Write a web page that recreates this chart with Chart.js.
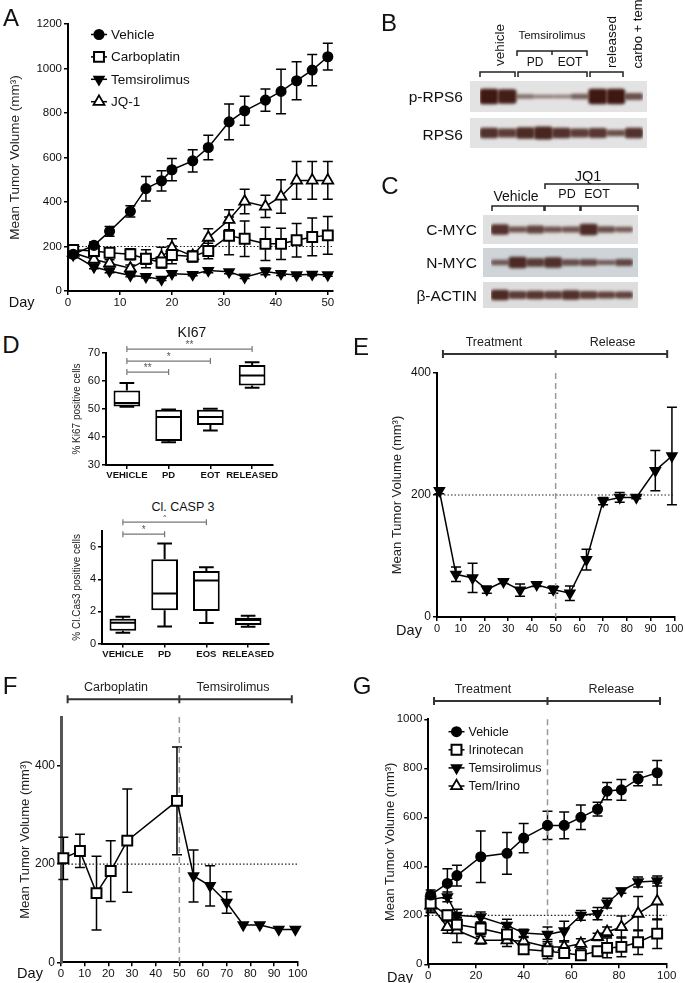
<!DOCTYPE html>
<html>
<head>
<meta charset="utf-8">
<script src="https://cdn.jsdelivr.net/npm/chart.js"></script>
<style>
  body { margin: 0; width: 685px; height: 983px; position: relative; overflow: hidden; background: #fff;
         font-family: 'Liberation Sans', Arial, Helvetica, sans-serif; color: #111; }
  canvas { position: absolute; }
  .t { position: absolute; white-space: nowrap; line-height: 1; }
  .blot { position: absolute; }
  svg { position: absolute; left: 0; top: 0; }
</style>
</head>
<body>

<canvas id="cA" width="345" height="310" style="left:0;top:0"></canvas>
<canvas id="cKi" width="230" height="165" style="left:60px;top:325px"></canvas>
<canvas id="cCas" width="230" height="150" style="left:60px;top:515px"></canvas>
<canvas id="cE" width="340" height="310" style="left:345px;top:330px"></canvas>
<canvas id="cF" width="345" height="318" style="left:0;top:665px"></canvas>
<canvas id="cG" width="340" height="318" style="left:345px;top:665px"></canvas>

<div class="blot" style="left:470px;top:81px;width:177px;height:31px;background:#e3e3e3"></div>
<div class="blot" style="left:470px;top:118px;width:177px;height:30px;background:#e3e3e3"></div>
<div class="blot" style="left:483px;top:215px;width:155px;height:29px;background:#e0e0e0"></div>
<div class="blot" style="left:483px;top:248px;width:155px;height:29px;background:#ced4d8"></div>
<div class="blot" style="left:483px;top:282px;width:155px;height:26px;background:#dddddd"></div>
<canvas id="bP" width="163" height="31" style="left:480px;top:81px"></canvas>
<canvas id="bR" width="163" height="30" style="left:480px;top:118px"></canvas>
<canvas id="bC" width="142" height="29" style="left:491px;top:215px"></canvas>
<canvas id="bN" width="142" height="29" style="left:491px;top:248px"></canvas>
<canvas id="bB" width="142" height="26" style="left:491px;top:282px"></canvas>

<svg width="685" height="320" stroke="#222" stroke-width="1.5" fill="none">
  <path d="M517,56 L517,51 L587,51 L587,56 M552,51 L552,55"/>
  <path d="M480,77 L480,72 L515,72 L515,77"/>
  <path d="M518,77 L518,72 L587,72 L587,77"/>
  <path d="M590,77 L590,72 L623,72 L623,77"/>
  <path d="M545,189 L545,184 L638,184 L638,189"/>
  <path d="M492,211 L492,206 L544,206 L544,211"/>
  <path d="M545,211 L545,206 L580,206 L580,211"/>
  <path d="M581,211 L581,206 L638,206 L638,211"/>
</svg>

<script>
// ---------- Panel A: tumour volume, days 0-50 ----------
const dayA = [1, 5, 8, 12, 15, 18, 20, 24, 27, 31, 34, 38, 41, 44, 47, 50];
const vehA = [165, 205, 268, 358, 460, 495, 545, 585, 645, 760, 810, 858, 897, 945, 993, 1053];
const vehAErr = [15, 15, 22, 25, 55, 45, 50, 50, 55, 80, 65, 50, 100, 85, 70, 60];
const carboA = [185, 180, 172, 165, 145, 128, 162, 155, 180, 248, 235, 212, 212, 228, 243, 250];
const carboAErr = [10, 25, 20, 25, 40, 25, 40, 25, 35, 85, 80, 75, 70, 75, 85, 85];
const temA = [162, 108, 90, 70, 64, 52, 78, 74, 92, 86, 62, 88, 78, 72, 75, 72];
const temAErr = [10, 8, 8, 6, 6, 5, 8, 6, 10, 8, 6, 15, 8, 6, 6, 6];
const jqA = [172, 142, 125, 102, 140, 152, 195, 158, 240, 320, 402, 380, 425, 497, 497, 497];
const jqAErr = [10, 15, 15, 15, 20, 45, 40, 15, 40, 45, 55, 50, 75, 85, 85, 85];

// ---------- Panel B / C: blot band intensities (0-1) ----------
const lanesB = ['veh 1', 'veh 2', 'PD 1', 'PD 2', 'EOT 1', 'EOT 2', 'rel 1', 'rel 2', 'carbo+tem'];
const pRPS6 = [1.0, 0.95, 0.3, 0.22, 0.18, 0.42, 1.0, 1.0, 0.55];
const RPS6 = [0.8, 0.7, 0.85, 0.9, 0.8, 0.7, 0.75, 0.55, 0.8];
const lanesC = ['veh 1', 'veh 2', 'veh 3', 'PD 1', 'PD 2', 'EOT 1', 'EOT 2', 'EOT 3'];
const cMYC = [0.8, 0.5, 0.65, 0.5, 0.5, 0.85, 0.55, 0.45];
const nMYC = [0.45, 0.85, 0.7, 0.8, 0.55, 0.6, 0.4, 0.6];
const bACTIN = [0.85, 0.7, 0.75, 0.7, 0.8, 0.7, 0.65, 0.65];

// ---------- Panel D: box plots ----------
const ki67Cats = ['VEHICLE', 'PD', 'EOT', 'RELEASED'];
const ki67Min = [50.8, 38.1, 42.3, 57.6];
const ki67Q1 = [50.9, 38.6, 44.3, 58.4];
const ki67Med = [52.1, 47.1, 47.1, 62.0];
const ki67Q3 = [56.6, 49.7, 49.7, 65.7];
const ki67Max = [59.3, 49.8, 50.1, 66.7];
const ki67Sig = [[0, 3, 71.4, '**'], [0, 2, 67.1, '*'], [0, 1, 63.2, '**']];

const casCats = ['VEHICLE', 'PD', 'EOS', 'RELEASED'];
const casMin = [0.68, 1.07, 1.28, 1.05];
const casQ1 = [0.8, 2.07, 2.02, 1.16];
const casMed = [1.3, 3.12, 3.93, 1.47];
const casQ3 = [1.55, 5.25, 4.51, 1.61];
const casMax = [1.67, 6.23, 4.74, 1.73];
const casSig = [[0, 2, 7.55, '*'], [0, 1, 6.8, '*']];

// ---------- Panel E ----------
const dayE = [1, 8, 15, 21, 28, 35, 42, 49, 56, 63, 70, 77, 84, 92, 99];
const temE = [207, 70, 64, 45, 58, 44, 53, 45, 39, 94, 190, 196, 196, 240, 264];
const temEErr = [5, 12, 24, 6, 3, 10, 3, 6, 12, 17, 6, 8, 2, 33, 80];

// ---------- Panel F ----------
const dayFCarbo = [1, 8, 15, 21, 28, 49];
const carboF = [212, 227, 141, 186, 248, 329];
const carboFErr = [43, 34, 75, 62, 105, 110];
const dayFTem = [49, 56, 63, 70, 77, 84, 92, 99];
const temF = [329, 176, 156, 122, 76, 76, 67, 67];
const temFErr = [0, 53, 41, 22, 0, 0, 0, 0];

// ---------- Panel G ----------
const dayG = [1, 8, 12, 22, 33, 40, 50, 57, 64, 71, 75, 81, 88, 96];
const vehG = [283, 330, 362, 439, 453, 515, 567, 567, 600, 633, 707, 712, 757, 782];
const vehGErr = [20, 60, 42, 105, 85, 60, 58, 55, 50, 28, 35, 42, 28, 50];
const iriG = [248, 200, 162, 146, 122, 61, 53, 46, 37, 53, 67, 71, 90, 125];
const iriGErr = [30, 20, 30, 25, 30, 15, 30, 20, 15, 15, 40, 40, 50, 60];
const temG = [265, 275, 200, 193, 159, 128, 122, 136, 200, 207, 250, 300, 336, 340];
const temGErr = [20, 20, 25, 20, 25, 15, 30, 40, 20, 25, 20, 10, 20, 20];
const tiG = [240, 152, 139, 98, 98, 94, 71, 71, 84, 112, 132, 152, 207, 257];
const tiGErr = [30, 25, 50, 15, 25, 15, 30, 20, 20, 15, 20, 45, 70, 75];

const FONT = "'Liberation Sans', Arial, Helvetica, sans-serif";
Chart.defaults.font.family = FONT;
Chart.defaults.color = '#111';

// ---- plugins ----
const errorBars = {
  id: 'errorBars',
  beforeDatasetsDraw(chart) {
    const ctx = chart.ctx, ys = chart.scales.y;
    chart.data.datasets.forEach((ds, i) => {
      if (!ds.errorBars) return;
      const meta = chart.getDatasetMeta(i);
      ctx.save();
      ctx.strokeStyle = '#000';
      ctx.lineWidth = 1.5;
      meta.data.forEach((pt, j) => {
        const e = ds.errorBars[j];
        if (!e) return;
        const v = ds.data[j].y;
        const top = ys.getPixelForValue(v + e), bot = ys.getPixelForValue(v - e), x = pt.x, cap = 5;
        ctx.beginPath();
        ctx.moveTo(x, top); ctx.lineTo(x, bot);
        ctx.moveTo(x - cap, top); ctx.lineTo(x + cap, top);
        ctx.moveTo(x - cap, bot); ctx.lineTo(x + cap, bot);
        ctx.stroke();
      });
      ctx.restore();
    });
  }
};

const refLines = {
  id: 'refLines',
  beforeDatasetsDraw(chart, args, opts) {
    const { ctx, chartArea: a, scales: { x, y } } = chart;
    ctx.save();
    if (opts.h != null) {
      const py = y.getPixelForValue(opts.h);
      ctx.strokeStyle = '#222'; ctx.lineWidth = 1.2; ctx.setLineDash([1.5, 2]);
      ctx.beginPath(); ctx.moveTo(a.left, py); ctx.lineTo(a.right, py); ctx.stroke();
    }
    if (opts.v != null) {
      const px = x.getPixelForValue(opts.v);
      ctx.strokeStyle = '#999'; ctx.lineWidth = 1.5; ctx.setLineDash([6, 4]);
      ctx.beginPath(); ctx.moveTo(px, a.top); ctx.lineTo(px, a.bottom); ctx.stroke();
    }
    ctx.restore();
  }
};

const phaseBar = {
  id: 'phaseBar',
  afterDraw(chart, args, opts) {
    if (!opts.labels) return;
    const { ctx, scales: { x } } = chart;
    const xs = opts.at.map(v => x.getPixelForValue(v));
    ctx.save();
    ctx.strokeStyle = '#333'; ctx.lineWidth = 2;
    ctx.beginPath();
    ctx.moveTo(xs[0], opts.y); ctx.lineTo(xs[xs.length - 1], opts.y);
    xs.forEach(px => { ctx.moveTo(px, opts.y - 4); ctx.lineTo(px, opts.y + 4); });
    ctx.stroke();
    ctx.fillStyle = '#222'; ctx.font = '12.5px ' + FONT;
    ctx.textAlign = 'center'; ctx.textBaseline = 'middle';
    opts.labels.forEach((t, i) => ctx.fillText(t, x.getPixelForValue(opts.labelAt[i]), opts.ty));
    ctx.restore();
  }
};

const pointLegend = {
  id: 'pointLegend',
  afterDraw(chart, args, opts) {
    if (opts.x == null) return;
    const ctx = chart.ctx;
    chart.data.datasets.forEach((ds, i) => {
      const y = opts.y + i * opts.dy;
      ctx.save();
      ctx.strokeStyle = '#000'; ctx.lineWidth = 1.5;
      ctx.beginPath(); ctx.moveTo(opts.x - 8, y); ctx.lineTo(opts.x + 8, y); ctx.stroke();
      ctx.fillStyle = ds.pointBackgroundColor;
      ctx.lineWidth = ds.pointBorderWidth;
      Chart.helpers.drawPoint(ctx, {
        pointStyle: ds.pointStyle, radius: ds.pointRadius,
        rotation: ds.pointRotation || 0, borderWidth: ds.pointBorderWidth
      }, opts.x, y);
      ctx.fillStyle = '#111'; ctx.font = opts.size + 'px ' + FONT;
      ctx.textAlign = 'left'; ctx.textBaseline = 'middle';
      ctx.fillText(ds.label, opts.x + 12, y + 0.5);
      ctx.restore();
    });
  }
};

const boxWhiskers = {
  id: 'boxWhiskers',
  afterDatasetsDraw(chart) {
    const ctx = chart.ctx, y = chart.scales.y;
    chart.data.datasets.forEach((ds, i) => {
      if (!ds.median) return;
      const meta = chart.getDatasetMeta(i);
      ctx.save();
      ctx.strokeStyle = '#000'; ctx.lineWidth = 2;
      meta.data.forEach((bar, j) => {
        const x = bar.x, hw = bar.width / 2, cw = hw * 0.55;
        const pMax = y.getPixelForValue(ds.whiskerMax[j]), pQ3 = y.getPixelForValue(ds.data[j][1]);
        const pQ1 = y.getPixelForValue(ds.data[j][0]), pMin = y.getPixelForValue(ds.whiskerMin[j]);
        const pMed = y.getPixelForValue(ds.median[j]);
        ctx.beginPath();
        ctx.moveTo(x, pMax); ctx.lineTo(x, pQ3);
        ctx.moveTo(x - cw, pMax); ctx.lineTo(x + cw, pMax);
        ctx.moveTo(x, pQ1); ctx.lineTo(x, pMin);
        ctx.moveTo(x - cw, pMin); ctx.lineTo(x + cw, pMin);
        ctx.moveTo(x - hw + 1, pMed); ctx.lineTo(x + hw - 1, pMed);
        ctx.stroke();
      });
      ctx.restore();
    });
  }
};

const sigBars = {
  id: 'sigBars',
  afterDraw(chart, args, opts) {
    if (!opts.items) return;
    const { ctx, scales: { x, y } } = chart;
    ctx.save();
    ctx.strokeStyle = '#777'; ctx.fillStyle = '#555'; ctx.lineWidth = 1.2;
    ctx.font = '10px ' + FONT; ctx.textAlign = 'center'; ctx.textBaseline = 'bottom';
    opts.items.forEach(([a, b, lvl, txt]) => {
      const x1 = x.getPixelForValue(a), x2 = x.getPixelForValue(b), yy = y.getPixelForValue(lvl);
      ctx.beginPath();
      ctx.moveTo(x1, yy - 3); ctx.lineTo(x1, yy + 3);
      ctx.moveTo(x1, yy); ctx.lineTo(x2, yy);
      ctx.moveTo(x2, yy - 3); ctx.lineTo(x2, yy + 3);
      ctx.stroke();
      ctx.fillText(txt, (x1 + x2) / 2, yy + 1);
    });
    ctx.restore();
  }
};

const bandBlur = {
  id: 'bandBlur',
  beforeDatasetsDraw(chart) { chart.ctx.save(); chart.ctx.filter = 'blur(1.4px)'; },
  afterDatasetsDraw(chart) { chart.ctx.restore(); }
};

// ---- axes ----
const axisLine = { color: '#000', width: 2 };
const tickGrid = { drawOnChartArea: false, drawTicks: true, tickLength: 4, color: '#000', lineWidth: 1.5 };
const plain = v => String(v);

function axisX(o) {
  return {
    type: 'linear', min: o.min, max: o.max,
    ticks: { stepSize: o.step, includeBounds: false, callback: plain, font: { size: o.font }, color: '#111', padding: 1, maxRotation: 0, autoSkip: false },
    grid: tickGrid, border: axisLine,
    afterFit: s => { s.height = o.h; s.paddingLeft = 0; s.paddingRight = 0; }
  };
}

function axisY(o) {
  return {
    min: o.min, max: o.max,
    ticks: { stepSize: o.step, includeBounds: false, callback: plain, font: { size: o.font }, color: '#111', padding: 2 },
    grid: tickGrid, border: Object.assign({}, axisLine, o.border || {}),
    title: { display: true, text: o.title, color: '#222', font: { size: o.tsize }, padding: { top: o.tpad, bottom: 0 } },
    afterFit: s => { s.width = o.w; s.paddingTop = 0; s.paddingBottom = 0; }
  };
}

const CIRCLE = { pointStyle: 'circle', pointRadius: 4.8, pointBackgroundColor: '#000', pointBorderWidth: 1.5 };
const SQUARE = { pointStyle: 'rect', pointRadius: 7, pointBackgroundColor: '#fff', pointBorderWidth: 2 };
const DOWN = { pointStyle: 'triangle', pointRotation: 180, pointRadius: 5.8, pointBackgroundColor: '#000', pointBorderWidth: 1.5 };
const UP = { pointStyle: 'triangle', pointRadius: 6.3, pointBackgroundColor: '#fff', pointBorderWidth: 1.8 };

function series(label, xs, ys, errs, style) {
  return Object.assign({
    label, data: xs.map((x, i) => ({ x, y: ys[i] })), errorBars: errs,
    borderColor: '#000', borderWidth: 1.5, tension: 0, clip: false,
    pointBorderColor: '#000', pointHoverRadius: 0
  }, style);
}

function lineChart(id, o) {
  return new Chart(document.getElementById(id), {
    type: 'line',
    data: { datasets: o.datasets },
    options: {
      responsive: false, animation: false, events: [],
      layout: { padding: o.pad },
      plugins: {
        legend: { display: false }, tooltip: { enabled: false },
        refLines: o.ref || {}, phaseBar: o.phase || {}, pointLegend: o.legend || {}
      },
      scales: { x: axisX(o.x), y: axisY(o.y) }
    },
    plugins: [errorBars, refLines, phaseBar, pointLegend]
  });
}

function boxChart(id, cats, mn, q1, md, q3, mx, o) {
  return new Chart(document.getElementById(id), {
    type: 'bar',
    data: {
      labels: cats,
      datasets: [{
        data: q1.map((v, i) => [v, q3[i]]), whiskerMin: mn, whiskerMax: mx, median: md,
        backgroundColor: '#fff', borderColor: '#000', borderWidth: 2, borderSkipped: false,
        barPercentage: 0.64, categoryPercentage: 1
      }]
    },
    options: {
      responsive: false, animation: false, events: [],
      layout: { padding: o.pad },
      plugins: { legend: { display: false }, tooltip: { enabled: false }, sigBars: { items: o.sig } },
      scales: {
        x: {
          type: 'category', offset: true,
          ticks: { font: { size: 9.5, weight: 'bold' }, color: '#111', padding: 1, maxRotation: 0, autoSkip: false },
          grid: Object.assign({}, tickGrid, { offset: false }), border: axisLine,
          afterFit: s => { s.height = 20; s.paddingLeft = 0; s.paddingRight = 0; }
        },
        y: axisY(o.y)
      }
    },
    plugins: [boxWhiskers, sigBars]
  });
}

// band thickness grows faster than linearly with signal, like an overexposed film
function blot(id, lanes, vals) {
  return new Chart(document.getElementById(id), {
    type: 'bar',
    data: {
      labels: lanes,
      datasets: [{
        data: vals.map(v => [0.5 - (0.04 + 0.2 * v * v), 0.5 + (0.04 + 0.2 * v * v)]),
        backgroundColor: vals.map(v => 'rgba(62,24,18,' + (0.4 + 0.6 * v) + ')'),
        borderRadius: 3, borderSkipped: false, barPercentage: 1, categoryPercentage: 1
      }]
    },
    options: {
      responsive: false, animation: false, events: [], layout: { padding: 0 },
      plugins: { legend: { display: false }, tooltip: { enabled: false } },
      scales: { x: { display: false }, y: { display: false, min: 0, max: 1 } }
    },
    plugins: [bandBlur]
  });
}

// ---- Panel A ----
lineChart('cA', {
  datasets: [
    series('Vehicle', dayA, vehA, vehAErr, CIRCLE),
    series('Carboplatin', dayA, carboA, carboAErr, SQUARE),
    series('Temsirolimus', dayA, temA, temAErr, DOWN),
    series('JQ-1', dayA, jqA, jqAErr, UP)
  ],
  pad: { left: 0, top: 24, right: 12, bottom: 0 },
  x: { min: 0, max: 51, step: 10, font: 11.5, h: 19 },
  y: { min: 0, max: 1200, step: 200, font: 11.5, w: 68, title: 'Mean Tumor Volume (mm³)', tsize: 13.5, tpad: 6.9 },
  ref: { h: 200 },
  legend: { x: 99, y: 34.5, dy: 22.4, size: 13.5 }
});

// ---- Panel D ----
boxChart('cKi', ki67Cats, ki67Min, ki67Q1, ki67Med, ki67Q3, ki67Max, {
  pad: { left: 0, top: 28, right: 17, bottom: 5 },
  y: { min: 30, max: 70, step: 10, font: 11, w: 46, title: '% Ki67 positive cells', tsize: 10, tpad: 11 },
  sig: ki67Sig
});
boxChart('cCas', casCats, casMin, casQ1, casMed, casQ3, casMax, {
  pad: { left: 0, top: 16, right: 21, bottom: 1.4 },
  y: { min: 0, max: 7, step: 2, font: 11, w: 42, title: '% Cl.Cas3 positive cells', tsize: 10, tpad: 11 },
  sig: casSig
});

// ---- Panel E ----
lineChart('cE', {
  datasets: [series('Temsirolimus', dayE, temE, temEErr, DOWN)],
  pad: { left: 0, top: 43, right: 10.7, bottom: 5 },
  x: { min: 0, max: 100, step: 10, font: 11, h: 18 },
  y: { min: 0, max: 400, step: 200, font: 12, w: 92, title: 'Mean Tumor Volume (mm³)', tsize: 13, tpad: 44.6 },
  ref: { h: 200, v: 50 },
  phase: { y: 24, ty: 13, at: [2.5, 50, 97], labels: ['Treatment', 'Release'], labelAt: [24, 74] }
});

// ---- Panel F ----
lineChart('cF', {
  datasets: [
    series('Carboplatin', dayFCarbo, carboF, carboFErr, SQUARE),
    series('Temsirolimus', dayFTem, temF, temFErr, Object.assign({}, DOWN, { pointRadius: [0, 5.8, 5.8, 5.8, 5.8, 5.8, 5.8, 5.8] }))
  ],
  pad: { left: 0, top: 52, right: 47.3, bottom: 2.7 },
  x: { min: 0, max: 100, step: 10, font: 11.5, h: 18 },
  y: { min: 0, max: 500, step: 200, font: 12, w: 61, title: 'Mean Tumor Volume (mm³)', tsize: 13, tpad: 17.2, border: { color: '#555', width: 3 } },
  ref: { h: 200, v: 50 },
  phase: { y: 34.3, ty: 22.7, at: [2.8, 50, 97.5], labels: ['Carboplatin', 'Temsirolimus'], labelAt: [23.2, 72.7] }
});

// ---- Panel G ----
lineChart('cG', {
  datasets: [
    series('Vehicle', dayG, vehG, vehGErr, CIRCLE),
    series('Irinotecan', dayG, iriG, iriGErr, SQUARE),
    series('Temsirolimus', dayG, temG, temGErr, DOWN),
    series('Tem/Irino', dayG, tiG, tiGErr, UP)
  ],
  pad: { left: 0, top: 54.3, right: 18.3, bottom: 0.7 },
  x: { min: 0, max: 100, step: 20, font: 11.5, h: 18 },
  y: { min: 0, max: 1000, step: 200, font: 11.5, w: 83.3, title: 'Mean Tumor Volume (mm³)', tsize: 13, tpad: 37.2 },
  ref: { h: 200, v: 50 },
  phase: { y: 36, ty: 25, at: [2.4, 50, 97.2], labels: ['Treatment', 'Release'], labelAt: [22.9, 76.8] },
  legend: { x: 111.5, y: 66.7, dy: 18.1, size: 12.5 }
});

// ---- Blots ----
blot('bP', lanesB, pRPS6);
blot('bR', lanesB, RPS6);
blot('bC', lanesC, cMYC);
blot('bN', lanesC, nMYC);
blot('bB', lanesC, bACTIN);

// ---- text ----
function label(txt, x, y, size, opt) {
  opt = opt || {};
  const d = document.createElement('div');
  d.className = 't';
  d.textContent = txt;
  d.style.left = x + 'px';
  d.style.top = y + 'px';
  d.style.fontSize = size + 'px';
  let tf = opt.right ? 'translate(-100%,-50%)' : 'translate(-50%,-50%)';
  if (opt.rot) tf += ' rotate(' + opt.rot + 'deg)';
  d.style.transform = tf;
  document.body.appendChild(d);
}

[['A', 11, 18], ['B', 389, 23], ['C', 390, 186], ['D', 11, 345],
 ['E', 361, 347], ['F', 10, 686], ['G', 362, 686]].forEach(p => label(p[0], p[1], p[2], 24));

label('Day', 21.7, 302, 14.5);
label('Day', 409, 630, 14.5);
label('Day', 30, 973, 14.5);
label('Day', 400, 977, 14.5);

label('KI67', 192, 332, 14);
label('Cl. CASP 3', 183, 507, 12.5);

label('p-RPS6', 463, 97, 15.5, { right: true });
label('RPS6', 463, 135, 15.5, { right: true });
label('vehicle', 500, 45, 13.5, { rot: -90 });
label('Temsirolimus', 552, 36, 11.5);
label('PD', 535, 62, 12);
label('EOT', 570, 62, 12);
label('released', 612, 42, 13.5, { rot: -90 });
label('carbo + tem', 637, 34, 13, { rot: -90 });

label('JQ1', 588, 176, 14.5);
label('Vehicle', 516, 196, 14);
label('PD', 567, 194, 12.5);
label('EOT', 597, 194, 12.5);
label('C-MYC', 477, 230, 15.5, { right: true });
label('N-MYC', 477, 263, 15.5, { right: true });
label('β-ACTIN', 477, 296, 15.5, { right: true });
</script>
</body>
</html>
